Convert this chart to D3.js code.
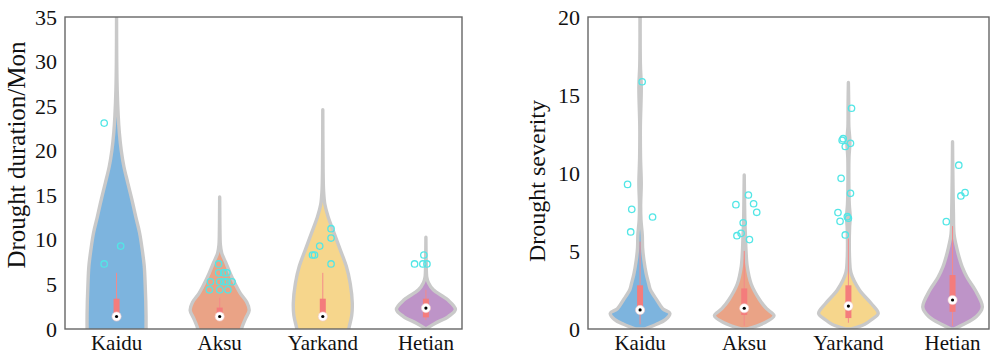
<!DOCTYPE html>
<html>
<head>
<meta charset="utf-8">
<script src="https://cdn.jsdelivr.net/npm/d3@7"></script>
<style>
  html, body { margin: 0; padding: 0; background: #fff; }
  svg { display: block; }
  svg text { font-family: "Liberation Serif"; }
</style>
</head>
<body>
<svg id="chart" width="993" height="355"></svg>
<script>
// ---- categories, ticks ----
const categories = ["Kaidu", "Aksu", "Yarkand", "Hetian"];
const durationTicks = [0, 5, 10, 15, 20, 25, 30, 35];
const severityTicks = [0, 5, 10, 15, 20];

// ---- violin profiles: [value, relative density] ----
const durKaidu   = [[-0.8,1.0],[0,1.0],[1.5,1.0],[3.2,0.99],[5,0.97],[7,0.94],[8.9,0.87],[10.8,0.78],[12.6,0.65],[14.5,0.52],[16.4,0.38],[18.2,0.25],[20,0.16],[22,0.095],[24,0.055],[26.8,0.022],[30,0.006],[35,0]];
const durAksu    = [[-0.8,0.72],[0,0.74],[1.2,0.88],[2.1,1.0],[3.0,0.92],[4.0,0.7],[5.1,0.52],[6.3,0.35],[7.5,0.2],[8.5,0.07],[9.4,0.025],[11,0.01],[13,0.004],[14.8,0]];
const durYarkand = [[-0.8,0.85],[0,0.88],[1.5,0.98],[2.9,1.0],[5.1,0.93],[7,0.8],[8.9,0.59],[10.7,0.39],[12.6,0.18],[14,0.07],[15.5,0.027],[18,0.01],[21,0.004],[24.6,0]];
const durHetian  = [[0,0],[0.65,0.32],[1.4,0.76],[2.2,1.0],[3.3,0.73],[4.4,0.25],[5.2,0.085],[5.8,0.03],[7.5,0.01],[10.3,0]];

const sevKaidu   = [[0,0.15],[0.3,0.55],[0.6,0.85],[1.0,1.0],[1.3,0.76],[1.86,0.56],[2.5,0.35],[2.9,0.29],[3.5,0.21],[4.4,0.13],[5.2,0.085],[6.0,0.075],[7,0.03],[8,0.02],[9.3,0.04],[11,0.015],[13,0.01],[15.5,0.04],[17,0.01],[20,0.004]];
const sevAksu    = [[0,0.1],[0.38,0.66],[0.85,1.0],[1.3,0.75],[1.86,0.52],[2.9,0.23],[4.0,0.1],[5.0,0.06],[6.0,0.04],[7,0.02],[8,0.012],[9.87,0]];
const sevYarkand = [[0,0.1],[0.3,0.55],[0.58,0.76],[1.0,1.0],[1.65,0.76],[2.5,0.37],[3.6,0.085],[4.5,0.04],[5.5,0.03],[6.5,0.04],[7.2,0.06],[8,0.03],[9.5,0.015],[11,0.02],[12,0.05],[13,0.015],[14.5,0.01],[15.8,0]];
const sevHetian  = [[0,0.05],[0.25,0.32],[0.8,0.8],[1.4,1.0],[2.5,0.76],[3.3,0.49],[4.0,0.32],[4.4,0.25],[5.2,0.14],[6.1,0.05],[7.4,0.03],[8.5,0.02],[10,0.01],[12,0]];

// ---- box statistics: [whisker low, q1, median, q3, whisker high] ----
const durBox = [[1.0,1.0,1.4,3.4,6.3],[1.0,1.0,1.4,2.4,3.5],[1.0,1.0,1.4,3.4,6.3],[1.0,1.3,2.35,3.4,4.4]];
const sevBox = [[0.3,1.1,1.22,2.8,5.6],[0.2,0.9,1.33,2.6,5.0],[0.4,0.7,1.47,2.8,5.8],[0.2,1.1,1.86,3.46,6.6]];

// ---- outliers: [category index, horizontal jitter, value] ----
const durOutliers = [
  [0,-0.12,23.1],[0,0.04,9.3],[0,-0.12,7.3],
  [1,-0.01,7.3],[1,-0.01,6.3],[1,0.04,6.3],[1,0.07,6.3],
  [1,-0.09,5.3],[1,0.0,5.3],[1,0.04,5.3],[1,0.07,5.3],[1,0.12,5.3],
  [1,-0.1,4.4],[1,0.0,4.4],[1,0.08,4.4],
  [2,0.08,11.25],[2,0.08,10.2],[2,-0.03,9.3],[2,-0.1,8.3],[2,-0.08,8.3],[2,0.08,7.3],
  [3,-0.02,8.3],[3,-0.11,7.3],[3,-0.03,7.3],[3,0.01,7.3]
];
const sevOutliers = [
  [0,0.02,15.85],[0,-0.12,9.27],[0,-0.08,7.67],[0,0.12,7.18],[0,-0.09,6.22],
  [1,0.04,8.59],[1,-0.08,7.97],[1,0.09,8.03],[1,0.12,7.48],[1,-0.01,6.81],[1,-0.07,5.98],[1,-0.03,6.13],[1,0.05,5.73],
  [2,0.03,14.15],[2,-0.05,12.2],[2,-0.06,12.1],[2,0.02,11.9],[2,-0.03,11.7],[2,-0.07,9.66],[2,0.02,8.7],
  [2,-0.1,7.46],[2,-0.08,6.9],[2,-0.01,7.2],[2,0.0,7.1],[2,-0.03,6.03],
  [3,0.06,10.5],[3,0.12,8.74],[3,0.08,8.53],[3,-0.06,6.88]
];

const fillColors = ["#7db4de", "#eaa386", "#f6d68c", "#be94c8"];

const svg = d3.select("#chart");

function drawPanel(cfg) {
  const { left, right, top, bottom, yMax, ticks, profiles, boxes, outliers, title, titleX, titleY, titleSize, id } = cfg;
  const x = d3.scaleLinear().domain([0.5, 4.35]).range([left, right]);
  const y = d3.scaleLinear().domain([0, yMax]).range([bottom, top]);
  const w = d3.scaleLinear().domain([0, 1]).range([0, 0.286]);

  const g = svg.append("g");
  svg.append("clipPath").attr("id", id).append("rect")
    .attr("x", left).attr("y", top).attr("width", right - left).attr("height", bottom - top);

  const plot = g.append("g").attr("clip-path", `url(#${id})`);

  // violins
  profiles.forEach((prof, i) => {
    const pos = i + 1;
    const area = d3.area()
      .y(d => y(d[0]))
      .x0(d => x(pos - w(d[1])))
      .x1(d => x(pos + w(d[1])))
      .curve(d3.curveCatmullRom.alpha(0.5));
    plot.append("path")
      .attr("d", area(prof))
      .attr("fill", fillColors[i])
      .attr("stroke", "#c9c9c9")
      .attr("stroke-width", 3.4)
      .attr("stroke-linejoin", "round");
  });

  // outliers
  plot.selectAll(null).data(outliers).join("circle")
    .attr("cx", d => x(d[0] + 1 + d[1]))
    .attr("cy", d => y(d[2]))
    .attr("r", 3.2)
    .attr("fill", "none")
    .attr("stroke", "#52e6e6")
    .attr("stroke-width", 1.3);

  // boxes
  boxes.forEach((b, i) => {
    const pos = i + 1;
    plot.append("line")
      .attr("x1", x(pos)).attr("x2", x(pos))
      .attr("y1", y(b[0])).attr("y2", y(b[4]))
      .attr("stroke", "#f48a8a").attr("stroke-width", 1);
    plot.append("rect")
      .attr("x", x(pos) - 3).attr("width", 6)
      .attr("y", y(b[3])).attr("height", y(b[1]) - y(b[3]))
      .attr("fill", "#f47c7c");
    plot.append("circle")
      .attr("cx", x(pos)).attr("cy", y(b[2])).attr("r", 4.6)
      .attr("fill", "#fff").attr("stroke", "#f3c9c9").attr("stroke-width", 0.6);
    plot.append("circle")
      .attr("cx", x(pos)).attr("cy", y(b[2])).attr("r", 1.6)
      .attr("fill", "#000");
  });

  // frame
  g.append("rect")
    .attr("x", left).attr("y", top).attr("width", right - left).attr("height", bottom - top)
    .attr("fill", "none").attr("stroke", "#666").attr("stroke-width", 1.4);

  // y tick labels
  g.selectAll(null).data(ticks).join("text")
    .attr("x", left - 8)
    .attr("y", d => y(d) + 7.5)
    .attr("text-anchor", "end")
    .attr("font-size", 22)
    .attr("fill", "#111")
    .text(d => d);

  // category labels
  g.selectAll(null).data(categories).join("text")
    .attr("x", (d, i) => x(i + 1))
    .attr("y", bottom + 21)
    .attr("text-anchor", "middle")
    .attr("font-size", 21)
    .attr("fill", "#111")
    .text(d => d);

  // y title
  g.append("text")
    .attr("transform", `translate(${titleX},${titleY}) rotate(-90)`)
    .attr("text-anchor", "middle")
    .attr("font-size", titleSize)
    .attr("fill", "#111")
    .text(title);
}

drawPanel({
  id: "clipDur", left: 65, right: 462, top: 17, bottom: 329, yMax: 35,
  ticks: durationTicks,
  profiles: [durKaidu, durAksu, durYarkand, durHetian],
  boxes: durBox, outliers: durOutliers,
  title: "Drought duration/Mon", titleX: 25, titleY: 155, titleSize: 25
});

drawPanel({
  id: "clipSev", left: 588, right: 989, top: 17, bottom: 329, yMax: 20,
  ticks: severityTicks,
  profiles: [sevKaidu, sevAksu, sevYarkand, sevHetian],
  boxes: sevBox, outliers: sevOutliers,
  title: "Drought severity", titleX: 545, titleY: 181, titleSize: 24
});
</script>
</body>
</html>
